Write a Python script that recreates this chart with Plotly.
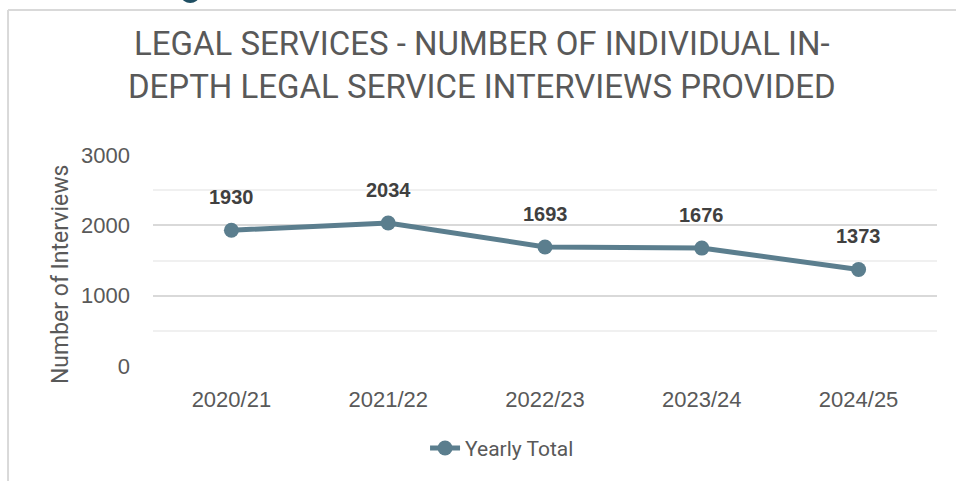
import plotly.graph_objects as go

# Yearly totals of individual in-depth legal service interviews
years = ["2020/21", "2021/22", "2022/23", "2023/24", "2024/25"]
interviews = [1930, 2034, 1693, 1676, 1373]

line_color = "#5B7E8E"
grey_text = "#595959"

fig = go.Figure()
fig.add_trace(go.Scatter(
    x=years, y=interviews, mode="lines+markers", name="Yearly Total",
    line=dict(color=line_color, width=5),
    marker=dict(size=15, color=line_color),
))

# Bold value labels above each point
for yr, v in zip(years, interviews):
    fig.add_annotation(x=yr, y=v, text=f"<b>{v}</b>", showarrow=False,
                       yshift=33, font=dict(family="Liberation Sans", size=20, color="#404040"))

# Vertical axis title
fig.add_annotation(xref="paper", yref="paper", x=-0.1186, y=0.431, text="Number of Interviews",
                   textangle=-90, showarrow=False, xanchor="center", yanchor="middle",
                   font=dict(family="Roboto", size=23, color=grey_text))

# Outer frame of the chart area
fig.add_shape(type="line", xref="paper", yref="paper", x0=-0.1849, x1=1.03, y0=1.687, y1=1.687,
              line=dict(color="#D9D9D9", width=2))
fig.add_shape(type="line", xref="paper", yref="paper", x0=-0.1849, x1=-0.1849, y0=1.687, y1=-0.6,
              line=dict(color="#D9D9D9", width=2))
# Tail of the page heading above the frame
fig.add_shape(type="circle", xref="paper", yref="paper", x0=0.038, x1=0.057, y0=1.78, y1=1.728,
              line=dict(color="#1F4F63", width=3))

fig.update_layout(
    width=956, height=481,
    margin=dict(l=153, r=19, t=155, b=115),
    paper_bgcolor="white", plot_bgcolor="white",
    showlegend=True,
    title=dict(
        text="LEGAL SERVICES - NUMBER OF INDIVIDUAL IN-<br>DEPTH LEGAL SERVICE INTERVIEWS PROVIDED",
        x=0.504, xanchor="center", y=0.886, yanchor="middle",
        font=dict(family="Roboto", size=33, color=grey_text),
    ),
    legend=dict(orientation="h", x=0.347, xanchor="left", y=-0.39, yanchor="middle",
                font=dict(family="Roboto", size=21, color=grey_text)),
    xaxis=dict(
        type="category", range=[-0.5, 4.5], showgrid=False, zeroline=False,
        showline=False, ticks="", ticklabelstandoff=18,
        tickfont=dict(family="Liberation Sans", size=22, color=grey_text),
    ),
    yaxis=dict(
        range=[0, 3000], dtick=1000, showgrid=True, gridcolor="#D9D9D9", gridwidth=2,
        zeroline=False, showline=False, ticks="", ticklabelstandoff=22,
        tickfont=dict(family="Liberation Sans", size=22, color=grey_text),
        minor=dict(dtick=500, showgrid=True, gridcolor="#F0F0F0", gridwidth=2),
    ),
)

fig.write_html("out.html")
